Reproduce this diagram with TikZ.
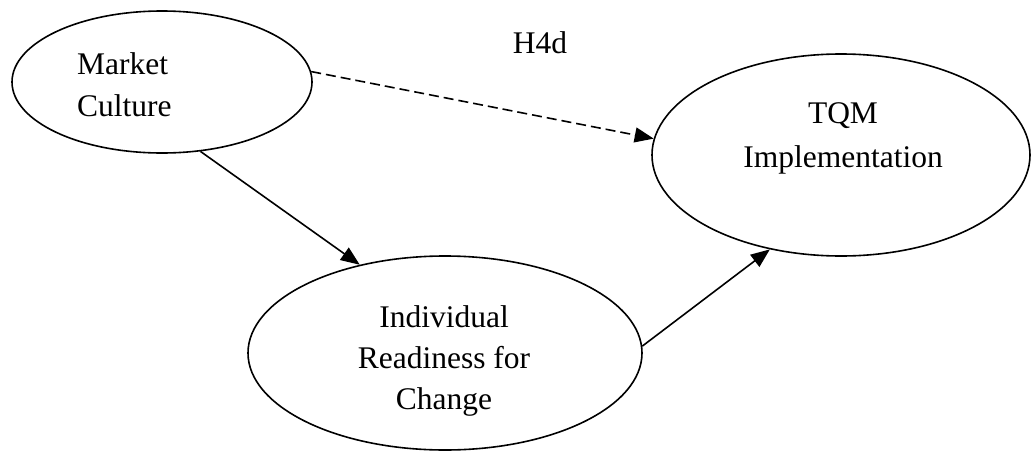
\documentclass[tikz,border=0pt]{standalone}
\usepackage{fontspec}
\setmainfont{Liberation Serif}
\usetikzlibrary{shapes.geometric,arrows.meta}
\begin{document}
\begin{tikzpicture}[x=1pt,y=-1pt,
  construct/.style={draw, ellipse, line width=1.6pt, inner sep=0pt},
  lbl/.style={inner sep=0pt, font=\fontsize{31.5}{42}\selectfont},
  link/.style={line width=1.6pt, -{Triangle[length=19pt,width=15pt]}},
  hyp/.style={link, dash pattern=on 10pt off 5pt}]
  \useasboundingbox (0,0) rectangle (1031,450);
  % constructs
  \node[construct, minimum width=300pt, minimum height=142pt] (mc) at (162,82) {};
  \node[construct, minimum width=378pt, minimum height=202pt] (tqm) at (841,155) {};
  \node[construct, minimum width=394pt, minimum height=194pt] (irc) at (445,353) {};
  % labels
  \node[lbl, anchor=north west, align=left] (mct) at (77,52) {Market\\Culture};
  \node[lbl, anchor=north, align=center, font=\fontsize{31.5}{44}\selectfont] (tqmt) at (843,102) {TQM\\Implementation};
  \node[lbl, anchor=north, align=center, font=\fontsize{31.5}{41}\selectfont] (irct) at (444,305) {Individual\\Readiness for\\Change};
  \node[lbl, anchor=north] (h4d) at (540,31) {H4d};
  % paths
  \draw[hyp] (mc.4.5) -- (tqm.175.5);
  \draw[link] (mc.-61.5) -- (irc.134.3);
  \draw[link] (irc.2.9) -- (tqm.233.3);
\end{tikzpicture}
\end{document}
